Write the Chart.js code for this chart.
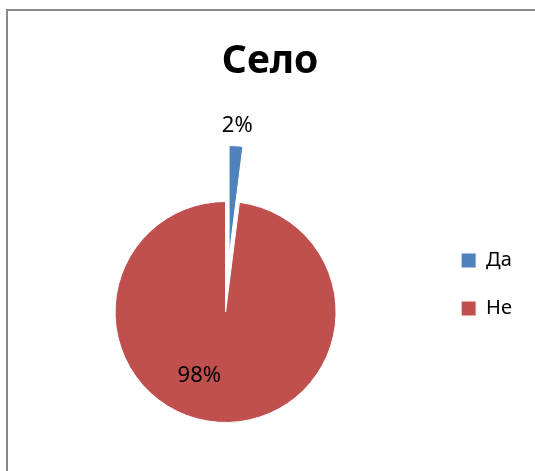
<!DOCTYPE html>
<html>
<head>
<meta charset="utf-8">
<script src="https://cdn.jsdelivr.net/npm/chart.js@4"></script>
<style>
  html, body { margin: 0; padding: 0; background: #fff; overflow: hidden; }
  #wrap { position: relative; width: 535px; height: 471px; }
  #frame { position: absolute; left: 6px; top: 9px; width: 600px; height: 600px; border: 2px solid #888; box-sizing: border-box; }
  canvas { position: absolute; left: 0; top: 0; }
</style>
</head>
<body>
<div id="wrap">
  <div id="frame"></div>
  <canvas id="pie" width="535" height="471"></canvas>
</div>
<script>
const chartTitle = 'Село';
const categories = ['Да', 'Не'];
const values = [2, 98];

// pulled-out distance of each slice, px
const explode = [56, 0];

const explodePlugin = {
  id: 'explode',
  afterDatasetsUpdate(chart) {
    chart.getDatasetMeta(0).data.forEach((arc, i) => {
      const d = explode[i];
      if (!d) return;
      const mid = (arc.startAngle + arc.endAngle) / 2;
      arc.x += Math.cos(mid) * d;
      arc.y += Math.sin(mid) * d;
    });
  }
};

// percentage labels, placed like the excel "best fit"
const pctLabels = {
  id: 'pctLabels',
  afterDatasetsDraw(chart, args, opts) {
    const ctx = chart.ctx;
    const total = values.reduce((a, b) => a + b, 0);
    ctx.save();
    ctx.font = '22px "Noto Sans"';
    ctx.fillStyle = '#000';
    ctx.textAlign = 'center';
    ctx.textBaseline = 'middle';
    chart.getDatasetMeta(0).data.forEach((arc, i) => {
      const p = opts.place[i];
      const a = (arc.startAngle + arc.endAngle) / 2 + p.turn;
      const r = arc.outerRadius * p.r + p.out;
      const txt = Math.round(values[i] / total * 100) + '%';
      ctx.fillText(txt, arc.x + Math.cos(a) * r, arc.y + Math.sin(a) * r);
    });
    ctx.restore();
  }
};

new Chart(document.getElementById('pie'), {
  type: 'pie',
  data: {
    labels: categories,
    datasets: [{
      data: values,
      backgroundColor: ['#4F81BD', '#C0504D'],
      borderColor: '#fff',
      borderWidth: 1
    }]
  },
  options: {
    responsive: false,
    animation: false,
    events: [],
    radius: 110.5,
    layout: { padding: { left: 18, right: 13, top: 0, bottom: 0 } },
    plugins: {
      title: {
        display: true,
        text: chartTitle,
        color: '#000',
        font: { family: 'Noto Sans', size: 39, weight: 'bold' },
        padding: { top: 38.6, bottom: 67.6 }
      },
      legend: {
        position: 'right',
        title: { display: true, text: '', padding: { top: 83.6, bottom: 0 } },
        labels: {
          boxWidth: 15,
          boxHeight: 15,
          padding: 28,
          color: '#000',
          font: { family: 'Noto Sans', size: 20 }
        }
      },
      tooltip: { enabled: false },
      pctLabels: {
        place: [
          { r: 1, out: 20, turn: 0 },
          { r: 0.62, out: 0, turn: 0.33 }
        ]
      }
    }
  },
  plugins: [explodePlugin, pctLabels]
});
</script>
</body>
</html>
